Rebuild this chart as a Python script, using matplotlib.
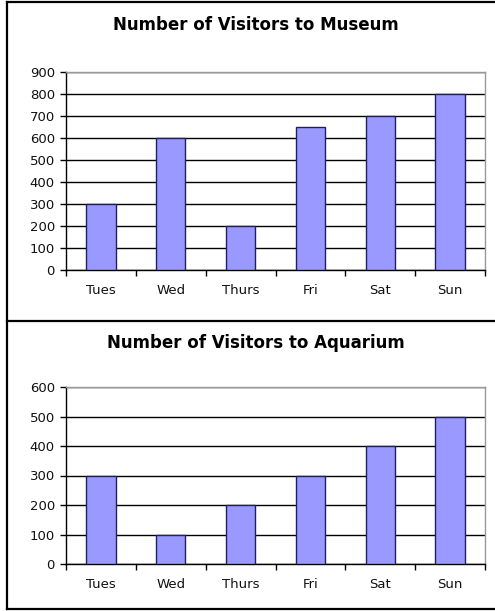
import matplotlib
matplotlib.use("Agg")
import matplotlib.pyplot as plt
from matplotlib.lines import Line2D
import numpy as np

days = ["Tues", "Wed", "Thurs", "Fri", "Sat", "Sun"]
museum = [300, 600, 200, 650, 700, 800]
aquarium = [300, 100, 200, 300, 400, 500]
museum_ticks = [0, 100, 200, 300, 400, 500, 600, 700, 800, 900]
aquarium_ticks = [0, 100, 200, 300, 400, 500, 600]

plt.rcParams['font.family'] = ['DejaVu Sans']

W, H = 495, 611
fig = plt.figure(figsize=(W / 100, H / 100), dpi=100)
fig.patch.set_facecolor('white')


def fx(px):
    return px / W


def fy(py):
    return 1 - py / H


def panel(rect, values, yticks, title, title_y):
    ax = fig.add_axes(rect)
    x = np.arange(len(days))
    ax.set_axisbelow(True)
    ax.yaxis.grid(True, color='black', linewidth=1.0)
    ax.bar(x, values, width=0.42, color='#9999ff', edgecolor='#202060',
           linewidth=1.0, zorder=3)
    ax.set_xlim(-0.5, len(days) - 0.5)
    ax.set_ylim(yticks[0], yticks[-1])
    ax.set_yticks(yticks)
    ax.set_yticklabels([str(t) for t in yticks], fontsize=9.5, color='#111111')
    ax.set_xticks(x)
    ax.set_xticklabels(days, fontsize=9.5, color='#111111')
    ax.set_xticks(np.arange(-0.5, len(days)), minor=True)
    ax.tick_params(axis='x', which='major', length=0, pad=10)
    ax.tick_params(axis='x', which='minor', length=4, width=1.0,
                   direction='out', color='black')
    ax.tick_params(axis='y', length=4, width=1.0, direction='out', pad=4)
    for s in ['top', 'right']:
        ax.spines[s].set_color('#999999')
        ax.spines[s].set_linewidth(1.0)
    for s in ['left', 'bottom']:
        ax.spines[s].set_color('black')
        ax.spines[s].set_linewidth(1.0)
    fig.text(fx(256), fy(title_y), title, ha='center', va='center',
             fontsize=12, fontweight='bold')
    return ax


panel([fx(66), fy(270), fx(485) - fx(66), fy(72) - fy(270)],
      museum, museum_ticks, "Number of Visitors to Museum", 25)
panel([fx(66), fy(564), fx(485) - fx(66), fy(387) - fy(564)],
      aquarium, aquarium_ticks, "Number of Visitors to Aquarium", 343)

# panel borders
lw = 1.6
fig.add_artist(Line2D([fx(7), fx(7)], [fy(1.5), fy(609)], color='black',
                      linewidth=lw, transform=fig.transFigure))
fig.add_artist(Line2D([fx(7), 1], [fy(1.5), fy(1.5)], color='black',
                      linewidth=lw, transform=fig.transFigure))
fig.add_artist(Line2D([fx(7), 1], [fy(321), fy(321)], color='black',
                      linewidth=lw, transform=fig.transFigure))
fig.add_artist(Line2D([fx(7), 1], [fy(609), fy(609)], color='black',
                      linewidth=lw, transform=fig.transFigure))

fig.savefig("out.png", dpi=100, facecolor='white')
